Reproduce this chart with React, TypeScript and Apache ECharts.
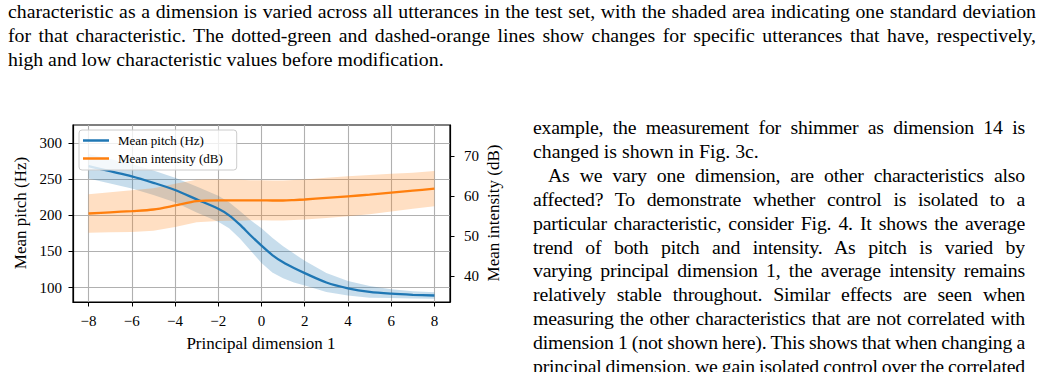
import React, { useEffect, useRef } from "react";
import * as echarts from "echarts";

// ---- data ----
const dims = [-8, -7, -6, -5, -4, -3, -2, -1.5, -1, -0.5, 0, 0.5, 1, 1.5, 2, 3, 4, 5, 6, 7, 8];
const pitchMean = [268, 261, 254, 245, 235, 222, 209, 200, 187, 172, 158, 145, 135, 127, 120, 107, 99, 94, 91.5, 90, 89];
const pitchStd = [17, 17, 17, 17, 17, 18, 18, 18, 19, 21, 24, 24, 22, 20, 17, 13, 10, 8, 6, 5, 4.5];
const intensityMean = [55.6, 55.9, 56.2, 56.6, 57.6, 58.7, 58.9, 58.9, 58.9, 58.9, 58.9, 58.85, 58.85, 58.95, 59.1, 59.5, 59.9, 60.3, 60.8, 61.3, 61.8];
const intensityStd = [4.8, 5.0, 5.2, 5.3, 5.4, 5.3, 5.2, 5.1, 5.1, 5.0, 5.0, 5.0, 5.0, 5.0, 5.0, 5.0, 5.0, 4.9, 4.7, 4.5, 4.4];
const xTicks = [-8, -6, -4, -2, 0, 2, 4, 6, 8];
const pitchTicks = [100, 150, 200, 250, 300];
const intensityTicks = [40, 50, 60, 70];
const seriesNames = ["Mean pitch (Hz)", "Mean intensity (dB)"];
const xName = "Principal dimension 1";
const leftName = "Mean pitch (Hz)";
const rightName = "Mean intensity (dB)";

const captionLines = [
  "characteristic as a dimension is varied across all utterances in the test set, with the shaded area indicating one standard deviation",
  "for that characteristic. The dotted-green and dashed-orange lines show changes for specific utterances that have, respectively,",
  "high and low characteristic values before modification.",
];
const columnLines: { t: string; last?: boolean; indent?: boolean }[] = [
  { t: "example, the measurement for shimmer as dimension 14 is" },
  { t: "changed is shown in Fig. 3c.", last: true },
  { t: "As we vary one dimension, are other characteristics also", indent: true },
  { t: "affected? To demonstrate whether control is isolated to a" },
  { t: "particular characteristic, consider Fig. 4. It shows the average" },
  { t: "trend of both pitch and intensity. As pitch is varied by" },
  { t: "varying principal dimension 1, the average intensity remains" },
  { t: "relatively stable throughout. Similar effects are seen when" },
  { t: "measuring the other characteristics that are not correlated with" },
  { t: "dimension 1 (not shown here). This shows that when changing a" },
  { t: "principal dimension, we gain isolated control over the correlated" },
];

const BLUE = "#1f77b4";
const ORANGE = "#ff7f0e";
const FONT = "Liberation Serif";

function minus(v: number) {
  return v < 0 ? "\u2212" + Math.abs(v) : String(v);
}

function bandSeries(mean: number[], std: number[], yAxisIndex: number, fill: string) {
  return {
    type: "custom",
    coordinateSystem: "cartesian2d",
    yAxisIndex,
    silent: true,
    data: dims.map((x, i) => [x, mean[i] - std[i], mean[i] + std[i]]),
    encode: { x: 0, y: [1, 2] },
    renderItem: (params: any, api: any) => {
      if (params.dataIndex !== 0) return null;
      const upper = dims.map((x, i) => api.coord([x, mean[i] + std[i]]));
      const lower = dims.map((x, i) => api.coord([x, mean[i] - std[i]])).reverse();
      return {
        type: "polygon",
        shape: { points: upper.concat(lower) },
        style: { fill, stroke: "none" },
      };
    },
  };
}

function Chart() {
  const ref = useRef<HTMLDivElement>(null);
  useEffect(() => {
    if (!ref.current) return;
    const chart = echarts.init(ref.current, undefined, { renderer: "svg" });
    const pLine = dims.map((x, i) => [x, pitchMean[i]]);
    const iLine = dims.map((x, i) => [x, intensityMean[i]]);
    const axisText = { fontFamily: FONT, fontSize: 15, color: "#000" };
    const tick = { show: true, length: 4.5, lineStyle: { color: "#000", width: 1 } };
    const axisLine = { show: true, onZero: false, lineStyle: { color: "#000", width: 1.2 } };
    const titleFont = `17px "${FONT}"`;
    chart.setOption({
      animation: false,
      grid: {
        left: 73,
        top: 125,
        width: 377,
        height: 177,
        show: true,
        borderColor: "#000",
        borderWidth: 1.2,
        backgroundColor: "transparent",
        outerBoundsMode: "none",
      },
      xAxis: {
        type: "value",
        min: -8.72,
        max: 8.72,
        axisLine,
        axisTick: { ...tick, customValues: xTicks },
        axisLabel: { ...axisText, margin: 11, customValues: xTicks, formatter: (v: number) => minus(v) },
        splitLine: { show: true, lineStyle: { color: "#b0b0b0", width: 1.1 } },
      },
      yAxis: [
        {
          type: "value",
          min: 80,
          max: 325,
          position: "left",
          axisLine,
          axisTick: { ...tick, customValues: pitchTicks },
          axisLabel: { ...axisText, margin: 11, customValues: pitchTicks },
          splitLine: { show: true, lineStyle: { color: "#b0b0b0", width: 1.1 } },
        },
        {
          type: "value",
          min: 33.5,
          max: 77.7,
          position: "right",
          axisLine,
          axisTick: { ...tick, customValues: intensityTicks },
          axisLabel: { ...axisText, margin: 14, customValues: intensityTicks },
          splitLine: { show: false },
        },
      ],
      legend: {
        left: 79,
        top: 130,
        orient: "vertical",
        icon: "rect",
        itemWidth: 26,
        itemHeight: 2.5,
        itemGap: 5,
        padding: [4, 14, 5, 4],
        backgroundColor: "rgba(255,255,255,0.8)",
        borderColor: "#cccccc",
        borderWidth: 1,
        borderRadius: 3,
        textStyle: { fontFamily: FONT, fontSize: 13, color: "#000", padding: [0, 0, 0, 4] },
        data: seriesNames,
      },
      series: [
        bandSeries(pitchMean, pitchStd, 0, "rgba(31,119,180,0.25)"),
        {
          name: seriesNames[0],
          type: "line",
          yAxisIndex: 0,
          data: pLine,
          smooth: 0.3,
          symbol: "none",
          itemStyle: { color: BLUE },
          lineStyle: { color: BLUE, width: 2.3 },
        },
        bandSeries(intensityMean, intensityStd, 1, "rgba(255,127,14,0.25)"),
        {
          name: seriesNames[1],
          type: "line",
          yAxisIndex: 1,
          data: iLine,
          smooth: 0.3,
          symbol: "none",
          itemStyle: { color: ORANGE },
          lineStyle: { color: ORANGE, width: 2.3 },
        },
      ],
      graphic: [
        {
          type: "text",
          x: 261,
          y: 343,
          style: { text: xName, font: titleFont, fill: "#000", align: "center", verticalAlign: "middle" },
        },
        {
          type: "text",
          x: 20,
          y: 213,
          rotation: Math.PI / 2,
          style: { text: leftName, font: titleFont, fill: "#000", align: "center", verticalAlign: "middle" },
        },
        {
          type: "text",
          x: 493,
          y: 213,
          rotation: Math.PI / 2,
          style: { text: rightName, font: titleFont, fill: "#000", align: "center", verticalAlign: "middle" },
        },
      ],
    });
    return () => chart.dispose();
  }, []);
  return <div ref={ref} style={{ position: "absolute", left: 0, top: 0, width: 1043, height: 372 }} />;
}

const TEXT_FONT = 19.8;
const LH = 23.85;

function Line({ text, x, w, cy, justify, indent, tight }: { text: string; x: number; w: number; cy: number; justify: boolean; indent?: boolean; tight?: boolean }) {
  return (
    <div
      style={{
        position: "absolute",
        left: x,
        top: cy - LH / 2,
        width: w,
        height: LH,
        lineHeight: LH + "px",
        overflow: "hidden",
        fontFamily: '"Liberation Serif", serif',
        fontSize: TEXT_FONT,
        color: "#000",
        letterSpacing: tight && justify ? "-0.2px" : "normal",
        wordSpacing: justify ? "-2.6px" : "normal",
        textAlign: justify ? "justify" : "left",
        textAlignLast: justify ? "justify" : "left",
        textIndent: indent ? 15 : 0,
      }}
    >
      {text}
    </div>
  );
}

export default function App() {
  return (
    <div style={{ position: "absolute", left: 0, top: 0, width: 1043, height: 372, overflow: "hidden", background: "#fff" }}>
      <Chart />
      {captionLines.map((t, i) => (
        <Line key={"c" + i} text={t} x={8} w={1028} cy={12 + i * 24} justify={i < captionLines.length - 1} />
      ))}
      {columnLines.map((l, i) => (
        <Line key={"r" + i} text={l.t} x={533} w={492} cy={128.3 + i * 23.85} justify={!l.last} indent={l.indent} tight />
      ))}
    </div>
  );
}
